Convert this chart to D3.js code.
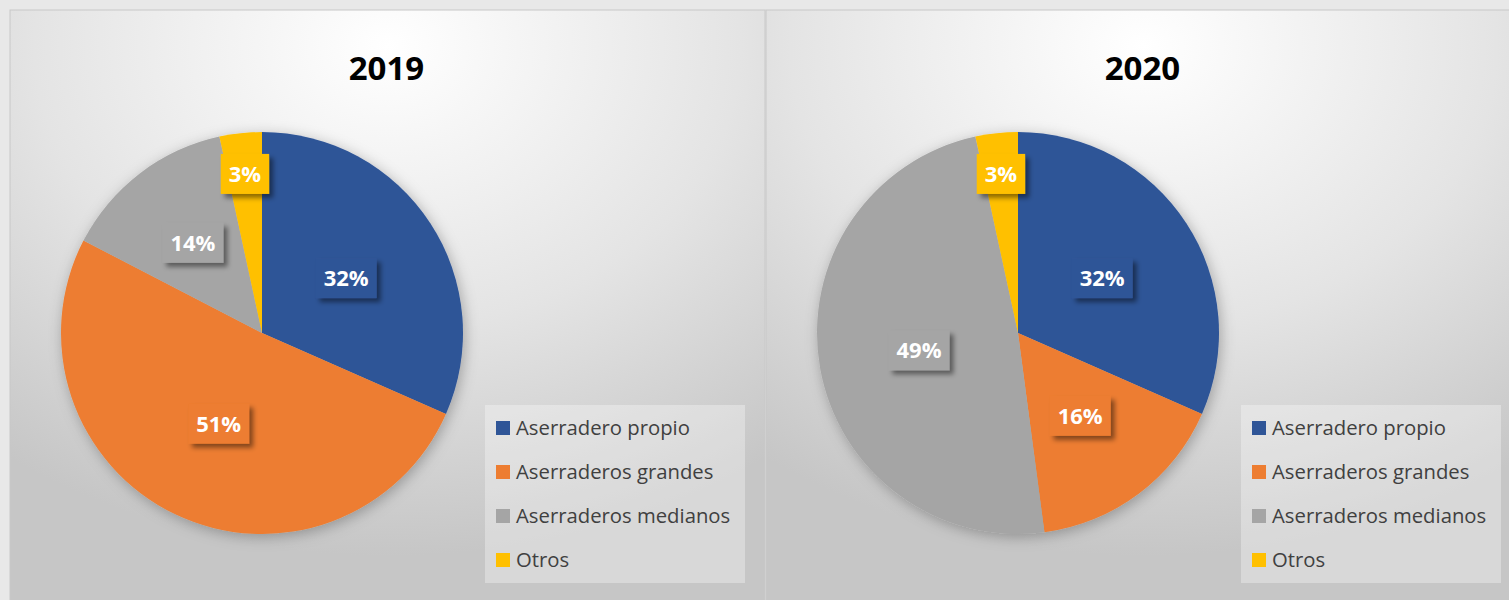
<!DOCTYPE html>
<html lang="es">
<head>
<meta charset="UTF-8">
<title>Aserraderos 2019 - 2020</title>
<script src="https://d3js.org/d3.v7.min.js"></script>
<style>
  body { margin: 0; background: #e8e8e8; }
  svg { display: block; font-family: "Open Sans", sans-serif; }
  .title { font-size: 33px; font-weight: bold; text-anchor: middle; fill: #000; }
  .lbl { font-size: 22px; font-weight: bold; fill: #fff; text-anchor: middle; }
  .leg { font-size: 20.3px; fill: #404040; }
</style>
</head>
<body>
<svg id="chart"></svg>
<script>
// datos
const categories = ["Aserradero propio", "Aserraderos grandes", "Aserraderos medianos", "Otros"];
const years = ["2019", "2020"];
const values2019 = [31.6, 51.0, 14.0, 3.4];
const values2020 = [31.6, 16.3, 48.7, 3.4];
const colors = ["#2f5597", "#ed7d31", "#a5a5a5", "#ffc000"];

const W = 1509, H = 600;
const panelW = 755, panelTop = 10, panelX = [10, 766];
const R = 201;

const svg = d3.select("#chart").attr("width", W).attr("height", H);
const defs = svg.append("defs");

// fondo con degradado radial
const grad = defs.append("radialGradient").attr("id", "bg")
  .attr("cx", "0.5").attr("cy", "0.06").attr("r", "0.85").attr("fx", "0.5").attr("fy", "0.06");
grad.append("stop").attr("offset", "0").attr("stop-color", "#ffffff");
grad.append("stop").attr("offset", "0.55").attr("stop-color", "#e4e4e4");
grad.append("stop").attr("offset", "1").attr("stop-color", "#c6c6c6");

const pieShadow = defs.append("filter").attr("id", "pieShadow")
  .attr("x", "-20%").attr("y", "-20%").attr("width", "140%").attr("height", "140%");
pieShadow.append("feDropShadow").attr("dx", 2).attr("dy", 3).attr("stdDeviation", 7)
  .attr("flood-color", "#000").attr("flood-opacity", 0.28);

const boxShadow = defs.append("filter").attr("id", "boxShadow")
  .attr("x", "-30%").attr("y", "-30%").attr("width", "170%").attr("height", "170%");
boxShadow.append("feDropShadow").attr("dx", 4).attr("dy", 4).attr("stdDeviation", 2.5)
  .attr("flood-color", "#000").attr("flood-opacity", 0.45);

const pie = d3.pie().sort(null).value(d => d);
const arc = d3.arc().innerRadius(0).outerRadius(R);
const color = d3.scaleOrdinal().domain(categories).range(colors);

function drawPanel(x0, year, values) {
  const g = svg.append("g").attr("transform", `translate(${x0},${panelTop})`);

  g.append("rect").attr("width", panelW).attr("height", H)
    .attr("fill", "url(#bg)").attr("stroke", "#c8c8c8").attr("stroke-width", 1);

  g.append("text").attr("class", "title")
    .attr("x", panelW / 2 - 1).attr("y", 70).text(year);

  const total = d3.sum(values);
  const arcs = pie(values);
  const cx = 252, cy = 323;

  const pg = g.append("g").attr("transform", `translate(${cx},${cy})`);
  pg.append("g").attr("filter", "url(#pieShadow)")
    .selectAll("path").data(arcs).join("path")
    .attr("d", arc)
    .attr("fill", (d, i) => color(categories[i]));

  // etiquetas: las porciones pequeñas se empujan hacia el borde
  const lg = pg.selectAll("g.l").data(arcs).join("g").attr("class", "l")
    .attr("transform", d => {
      const frac = (d.endAngle - d.startAngle) / (2 * Math.PI);
      const k = 0.5 + 0.37 * Math.max(0, (0.17 - frac) / 0.17);
      const a = (d.startAngle + d.endAngle) / 2;
      return `translate(${Math.sin(a) * R * k},${-Math.cos(a) * R * k})`;
    });

  lg.each(function (d, i) {
    const s = d3.select(this);
    const t = s.append("text").attr("class", "lbl").attr("y", 8)
      .text(Math.round(d.value / total * 100) + "%");
    const w = t.node().getComputedTextLength() + 16;
    s.insert("rect", "text")
      .attr("x", -w / 2).attr("y", -20).attr("width", w).attr("height", 40)
      .attr("fill", color(categories[i])).attr("filter", "url(#boxShadow)");
  });

  // leyenda
  const leg = g.append("g").attr("transform", "translate(475,395)");
  leg.append("rect").attr("width", 260).attr("height", 178)
    .attr("fill", "#ffffff").attr("fill-opacity", 0.32);
  const y = d3.scalePoint().domain(categories).range([23, 155]);
  const items = leg.selectAll("g").data(categories).join("g")
    .attr("transform", d => `translate(11,${y(d)})`);
  items.append("rect").attr("y", -7).attr("width", 14).attr("height", 14)
    .attr("fill", d => color(d));
  items.append("text").attr("class", "leg").attr("x", 20).attr("y", 7).text(d => d);
}

drawPanel(panelX[0], years[0], values2019);
drawPanel(panelX[1], years[1], values2020);
</script>
</body>
</html>
